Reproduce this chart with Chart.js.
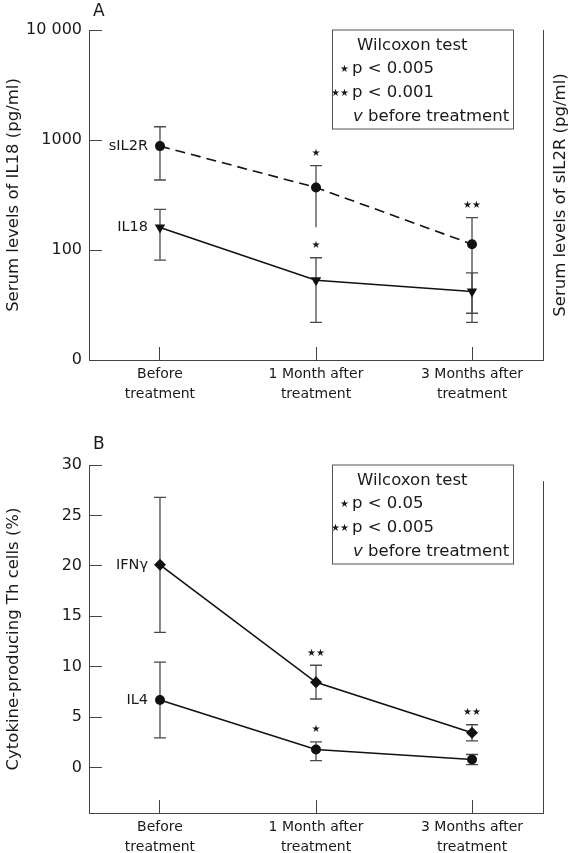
<!DOCTYPE html>
<html>
<head>
<meta charset="utf-8">
<script src="https://cdn.jsdelivr.net/npm/chart.js@4.4.1/dist/chart.umd.min.js"></script>
<style>
  body { margin: 0; background: #fff; }
  #wrap { position: relative; width: 572px; height: 853px; }
  canvas { position: absolute; left: 0; }
  #chartA { top: 0; }
  #chartB { top: 420px; }
</style>
</head>
<body>
<div id="wrap">
  <canvas id="chartA" width="572" height="420"></canvas>
  <canvas id="chartB" width="572" height="433"></canvas>
</div>
<script>
// ─── data ─────────────────────────────────────────────────────────────────────
const xLabels = [["Before", "treatment"], ["1 Month after", "treatment"], ["3 Months after", "treatment"]];

// Panel A (pg/ml, log axis)
const yTicksA = [10, 100, 1000, 10000];
const yTickTextA = ["0", "100", "1000", "10 000"];
const sil2rMean = [880, 370, 113];
const sil2rHi = [1320, 585, 197];
const sil2rLo = [433, 161, 26.6];
const sil2rStars = ["", "★", "★★"];
const il18Mean = [160, 53, 42];
const il18Hi = [234, 85, 62];
const il18Lo = [81, 22, 22];
const il18Stars = ["", "★", ""];

// Panel B (% of Th cells)
const yTicksB = [0, 5, 10, 15, 20, 25, 30];
const ifnMean = [20.1, 8.45, 3.45];
const ifnHi = [26.8, 10.15, 4.25];
const ifnLo = [13.4, 6.8, 2.65];
const ifnStars = ["", "★★", "★★"];
const il4Mean = [6.7, 1.8, 0.8];
const il4Hi = [10.45, 2.55, 1.3];
const il4Lo = [2.95, 0.7, 0.3];
const il4Stars = ["", "★", ""];

const legendA = ["p < 0.005", "p < 0.001"];
const legendB = ["p < 0.05", "p < 0.005"];

// ─── helpers ──────────────────────────────────────────────────────────────────
Chart.defaults.font.family = "'DejaVu Sans', sans-serif";
Chart.defaults.color = "#1a1a1a";

const AXIS = "#444";
const STAR_FONT = "10px 'DejaVu Sans'";
const pts = arr => arr.map((v, i) => ({ x: i, y: v }));

const extras = {
  id: "extras",
  beforeDatasetsDraw(chart) {
    const ctx = chart.ctx, xs = chart.scales.x, ys = chart.scales.y;
    ctx.save();
    ctx.strokeStyle = "#4a4a4a";
    ctx.lineWidth = 1.3;
    chart.data.datasets.forEach(ds => {
      ds.data.forEach((p, i) => {
        const x = xs.getPixelForValue(p.x);
        const yh = ys.getPixelForValue(ds.hi[i]);
        const yl = ys.getPixelForValue(ds.lo[i]);
        ctx.beginPath();
        ctx.moveTo(x, yh); ctx.lineTo(x, yl);
        ctx.moveTo(x - 6, yh); ctx.lineTo(x + 6, yh);
        if (!(ds.noLowCap || []).includes(i)) { ctx.moveTo(x - 6, yl); ctx.lineTo(x + 6, yl); }
        ctx.stroke();
      });
    });
    ctx.restore();
  },
  afterDraw(chart, args, o) {
    const ctx = chart.ctx, xs = chart.scales.x, ys = chart.scales.y, a = chart.chartArea;
    ctx.save();
    ctx.fillStyle = "#1a1a1a";

    // stars over the upper bars + series names at the first point
    chart.data.datasets.forEach(ds => {
      ds.data.forEach((p, i) => {
        if (!ds.stars[i]) return;
        ctx.font = STAR_FONT;
        ctx.textAlign = "center"; ctx.textBaseline = "middle";
        ctx.fillText(ds.stars[i], xs.getPixelForValue(p.x), ys.getPixelForValue(ds.hi[i]) - 12);
      });
      ctx.font = "14.5px 'DejaVu Sans'";
      ctx.textAlign = "right"; ctx.textBaseline = "middle";
      ctx.fillText(ds.label, xs.getPixelForValue(ds.data[0].x) - 12, ys.getPixelForValue(ds.data[0].y));
    });

    // right-hand frame line
    ctx.strokeStyle = AXIS; ctx.lineWidth = 1;
    ctx.beginPath();
    ctx.moveTo(a.right + 0.5, ys.getPixelForValue(o.rightTop));
    ctx.lineTo(a.right + 0.5, a.bottom);
    ctx.stroke();

    if (o.rightTitle) {
      ctx.save();
      ctx.translate(a.right + 18, (a.top + a.bottom) / 2);
      ctx.rotate(-Math.PI / 2);
      ctx.font = "16.5px 'DejaVu Sans'";
      ctx.textAlign = "center"; ctx.textBaseline = "middle";
      ctx.fillText(o.rightTitle, 0, 0);
      ctx.restore();
    }

    // panel letter
    ctx.font = "17px 'DejaVu Sans'";
    ctx.textAlign = "left"; ctx.textBaseline = "middle";
    ctx.fillText(o.letter, a.left + 4, a.top - o.letterGap);

    // Wilcoxon box
    const bw = 181, bh = 99;
    const bx = a.right - 30 - bw, by = a.top - 0.5;
    ctx.strokeStyle = "#555";
    ctx.strokeRect(bx + 0.5, by + 0.5, bw, bh);
    ctx.font = "16.5px 'DejaVu Sans'";
    ctx.textAlign = "left";
    ctx.fillText("Wilcoxon test", bx + 25, by + 16);
    ctx.fillText(o.pText[0], bx + 20, by + 39);
    ctx.fillText(o.pText[1], bx + 20, by + 63);
    ctx.font = "italic 16.5px 'DejaVu Sans'";
    ctx.fillText("v", bx + 21, by + 87);
    const vw = ctx.measureText("v").width;
    ctx.font = "16.5px 'DejaVu Sans'";
    ctx.fillText(" before treatment", bx + 21 + vw, by + 87);
    ctx.font = STAR_FONT;
    ctx.textAlign = "right";
    ctx.fillText("★", bx + 17, by + 40);
    ctx.fillText("★★", bx + 17, by + 64);
    ctx.restore();
  }
};

function xAxis(h) {
  return {
    type: "linear", min: -0.455, max: 2.455,
    afterBuildTicks: s => { s.ticks = [0, 1, 2].map(v => ({ value: v })); },
    afterFit: s => { s.height = h; },
    ticks: { callback: v => xLabels[v], font: { size: 14, lineHeight: 1.4 }, padding: 18, maxRotation: 0, autoSkip: false },
    grid: { drawOnChartArea: false, tickLength: -13, color: AXIS },
    border: { color: AXIS, width: 1 }
  };
}

function yAxis(extra) {
  return Object.assign({
    afterFit: s => { s.width = 89; },
    grid: { drawOnChartArea: false, tickLength: -13, color: AXIS },
    border: { color: AXIS, width: 1 }
  }, extra);
}

const lineStyle = { borderColor: "#111", backgroundColor: "#111", borderWidth: 1.6, tension: 0, pointBorderWidth: 0 };

// ─── panel A ──────────────────────────────────────────────────────────────────
new Chart(document.getElementById("chartA"), {
  type: "line",
  data: {
    datasets: [
      Object.assign({ label: "sIL2R", data: pts(sil2rMean), hi: sil2rHi, lo: sil2rLo, stars: sil2rStars, noLowCap: [1],
        borderDash: [10, 6], pointStyle: "circle", pointRadius: 5 }, lineStyle),
      Object.assign({ label: "IL18", data: pts(il18Mean), hi: il18Hi, lo: il18Lo, stars: il18Stars,
        pointStyle: "triangle", pointRotation: 180, pointRadius: 6 }, lineStyle)
    ]
  },
  options: {
    responsive: false, animation: false, devicePixelRatio: 1,
    layout: { padding: { top: 30, right: 29, left: 0, bottom: 0 } },
    plugins: {
      legend: { display: false }, tooltip: { enabled: false },
      extras: { letter: "A", letterGap: 18, rightTop: 10000, rightTitle: "Serum levels of sIL2R (pg/ml)", pText: legendA }
    },
    scales: {
      x: xAxis(60),
      y: yAxis({
        type: "logarithmic", min: 10, max: 10000,
        afterBuildTicks: s => { s.ticks = yTicksA.map(v => ({ value: v })); },
        ticks: { callback: v => yTickTextA[yTicksA.indexOf(v)], font: { size: 16 }, padding: 20 },
        title: { display: true, text: "Serum levels of IL18 (pg/ml)", font: { size: 16.5 }, padding: { top: 4, bottom: 4 } }
      })
    }
  },
  plugins: [extras]
});

// ─── panel B ──────────────────────────────────────────────────────────────────
new Chart(document.getElementById("chartB"), {
  type: "line",
  data: {
    datasets: [
      Object.assign({ label: "IFNγ", data: pts(ifnMean), hi: ifnHi, lo: ifnLo, stars: ifnStars,
        pointStyle: "rectRot", pointRadius: 6 }, lineStyle),
      Object.assign({ label: "IL4", data: pts(il4Mean), hi: il4Hi, lo: il4Lo, stars: il4Stars,
        pointStyle: "circle", pointRadius: 5 }, lineStyle)
    ]
  },
  options: {
    responsive: false, animation: false, devicePixelRatio: 1,
    layout: { padding: { top: 45, right: 29, left: 0, bottom: 0 } },
    plugins: {
      legend: { display: false }, tooltip: { enabled: false },
      extras: { letter: "B", letterGap: 20, rightTop: 28.4, pText: legendB }
    },
    scales: {
      x: xAxis(40),
      y: yAxis({
        type: "linear", min: -4.5, max: 30,
        afterBuildTicks: s => { s.ticks = yTicksB.map(v => ({ value: v })); },
        ticks: { font: { size: 16 }, padding: 20 },
        title: { display: true, text: "Cytokine-producing Th cells (%)", font: { size: 16.5 }, padding: { top: 4, bottom: 4 } }
      })
    }
  },
  plugins: [extras]
});
</script>
</body>
</html>
